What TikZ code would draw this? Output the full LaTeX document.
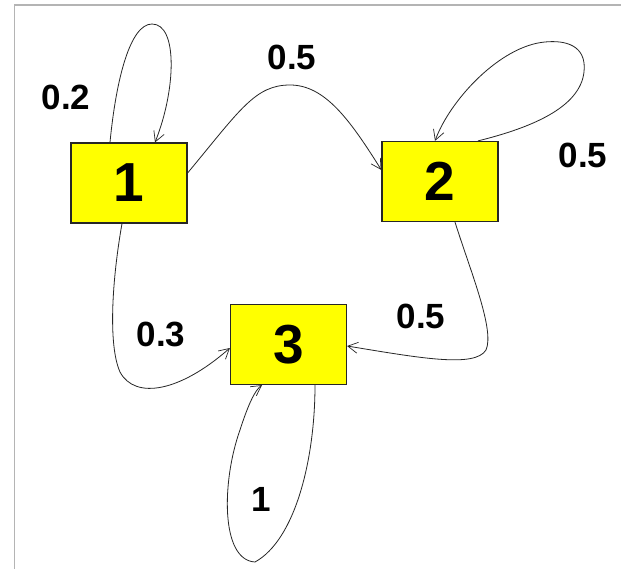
\documentclass[tikz,border=0pt]{standalone}
\usepackage{fontspec}
\setmainfont{Liberation Sans}
\usetikzlibrary{arrows.meta}
\definecolor{boxyellow}{HTML}{FFFF00}
\definecolor{framegrey}{HTML}{B4B4B4}
\tikzset{
  state/.style={draw=black!85, line width=1.2pt, fill=boxyellow, minimum width=116pt, minimum height=80pt, inner sep=0pt, font=\fontsize{55}{55}\selectfont\bfseries},
  edgelbl/.style={font=\fontsize{35}{35}\selectfont\bfseries, inner sep=0pt},
  link/.style={draw=black!85, line width=0.8pt, -{Straight Barb[length=10pt,width=11pt,line width=0.7pt]}}
}
\begin{document}
\begin{tikzpicture}[x=1pt,y=-1pt]
\useasboundingbox (0,0) rectangle (621,569);
\fill[white] (0,0) rectangle (621,569);
\draw[framegrey, line width=1.5pt] (621,5) -- (14.5,5) -- (14.5,569);
\node[state] (n1) at (129,183) {1};
\node[state] (n2) at (440,181.5) {2};
\node[state] (n3) at (288.5,344.5) {3};
\node[edgelbl] (l12) at (66,97) {0.2};
\node[edgelbl] (l1to2) at (292,57) {0.5};
\node[edgelbl] (l22) at (583,155) {0.5};
\node[edgelbl] (l13) at (161,334) {0.3};
\node[edgelbl] (l23) at (421,316) {0.5};
\node[edgelbl] (l33) at (261,499) {1};
% loop at 1
\draw[link] ([xshift=-19pt]n1.north) .. controls (116,80) and (130,24) .. (152,24) .. controls (178,24) and (176,90) .. ([xshift=26pt]n1.north);
% 1 -> 2
\draw[link] ([yshift=10pt]n1.east) .. controls (240,110) and (255,85) .. (290,85) .. controls (325,85) and (350,120) .. ([yshift=11.5pt]n2.west);
% loop at 2
\draw[link] ([xshift=38pt]n2.north) .. controls (530,128) and (580,108) .. (584,72) .. controls (587,45) and (565,40) .. (545,42) .. controls (500,46) and (450,100) .. ([xshift=-5pt]n2.north);
% 1 -> 3
\draw[link] ([xshift=-7pt]n1.south) .. controls (112,280) and (108,345) .. (120,372) .. controls (135,400) and (180,392) .. ([yshift=-3.5pt]n3.west);
% 2 -> 3
\draw[link] ([xshift=15pt]n2.south) .. controls (470,270) and (495,330) .. (486,350) .. controls (475,368) and (420,358) .. ([yshift=-1.5pt]n3.east);
% loop at 3
\draw[link] ([xshift=26.5pt]n3.south) .. controls (315,460) and (295,540) .. (255,562) .. controls (220,560) and (222,480) .. (240,430) .. controls (248,405) and (255,390) .. ([xshift=-26.5pt]n3.south);
\end{tikzpicture}
\end{document}
